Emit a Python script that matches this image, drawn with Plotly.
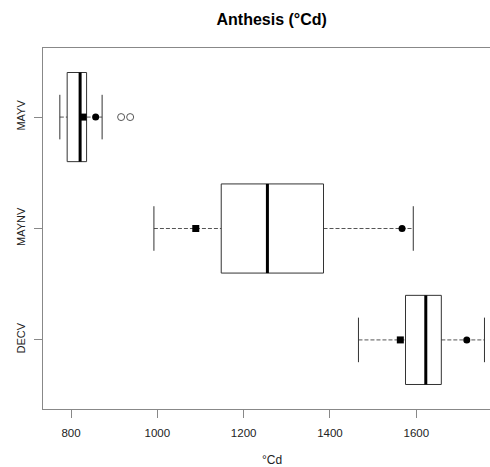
import plotly.graph_objects as go

groups = ["DECV", "MAYNV", "MAYV"]
lower = [1466, 992, 774]
q1 = [1575, 1148, 791]
median = [1622, 1255, 821]
q3 = [1658, 1385, 836]
upper = [1758, 1593, 872]
means = [1563, 1089, 828]
dots = [1717, 1567, 857]
outlier_group = ["MAYV", "MAYV"]
outlier_vals = [916, 937]

pos = {g: i + 1 for i, g in enumerate(groups)}
hw = 0.4
cw = 0.2

bx, by, mx, my, wx, wy, cx, cy = [], [], [], [], [], [], [], []
for i, g in enumerate(groups):
    y = pos[g]
    bx += [q1[i], q3[i], q3[i], q1[i], q1[i], None]
    by += [y - hw, y - hw, y + hw, y + hw, y - hw, None]
    mx += [median[i], median[i], None]
    my += [y - hw, y + hw, None]
    wx += [lower[i], q1[i], None, q3[i], upper[i], None]
    wy += [y, y, None, y, y, None]
    cx += [lower[i], lower[i], None, upper[i], upper[i], None]
    cy += [y - cw, y + cw, None, y - cw, y + cw, None]

fig = go.Figure()
fig.add_trace(go.Scatter(x=wx, y=wy, mode="lines",
                         line=dict(color="#555555", width=1, dash="4px,2px"), hoverinfo="skip"))
fig.add_trace(go.Scatter(x=cx, y=cy, mode="lines",
                         line=dict(color="#333333", width=1), hoverinfo="skip"))
fig.add_trace(go.Scatter(x=bx, y=by, mode="lines",
                         line=dict(color="#333333", width=1), hoverinfo="skip"))
fig.add_trace(go.Scatter(x=mx, y=my, mode="lines",
                         line=dict(color="black", width=3), hoverinfo="skip"))
fig.add_trace(go.Scatter(x=means, y=[pos[g] for g in groups], mode="markers",
                         marker=dict(symbol="square", size=7, color="black")))
fig.add_trace(go.Scatter(x=dots, y=[pos[g] for g in groups], mode="markers",
                         marker=dict(symbol="circle", size=7, color="black")))
fig.add_trace(go.Scatter(x=outlier_vals, y=[pos[g] for g in outlier_group], mode="markers",
                         marker=dict(symbol="circle-open", size=7, color="#555555",
                                     line=dict(width=1))))

fig.update_layout(
    width=490, height=467,
    margin=dict(l=43, r=0, t=48, b=58, autoexpand=False),
    plot_bgcolor="white", paper_bgcolor="white",
    showlegend=False,
    font=dict(family="Liberation Sans, Arial, sans-serif", color="#222222"),
    title=dict(text="<b>Anthesis (°Cd)</b>", x=271.7 / 490, y=1 - 19 / 467,
               xref="container", yref="container", xanchor="center", yanchor="middle",
               font=dict(size=16, color="black")),
    xaxis=dict(range=[735, 1770.8], tickvals=[800, 1000, 1200, 1400, 1600],
               showgrid=False, zeroline=False, showline=True, linecolor="#888888",
               linewidth=1, mirror=True, ticks="outside", ticklen=8, tickcolor="#888888",
               automargin=False, ticklabelstandoff=5,
               tickfont=dict(size=11.5, color="#222222")),
    yaxis=dict(range=[0.38, 3.62], tickvals=[pos[g] for g in groups], ticktext=groups,
               showgrid=False, zeroline=False, showline=True, linecolor="#888888",
               linewidth=1, ticks="outside", ticklen=8, tickcolor="#888888",
               automargin=False, ticklabelstandoff=5,
               tickangle=-90, tickfont=dict(size=11, color="#222222")),
    annotations=[
        dict(text="°Cd", x=1265, y=0, xref="x", yref="paper",
             yshift=-51, xanchor="center", yanchor="middle",
             showarrow=False, font=dict(size=12, color="#222222")),
    ],
)
fig.write_html("out.html", config={"displayModeBar": False},
               post_script="document.body.style.margin='0';document.body.style.overflow='hidden';")
